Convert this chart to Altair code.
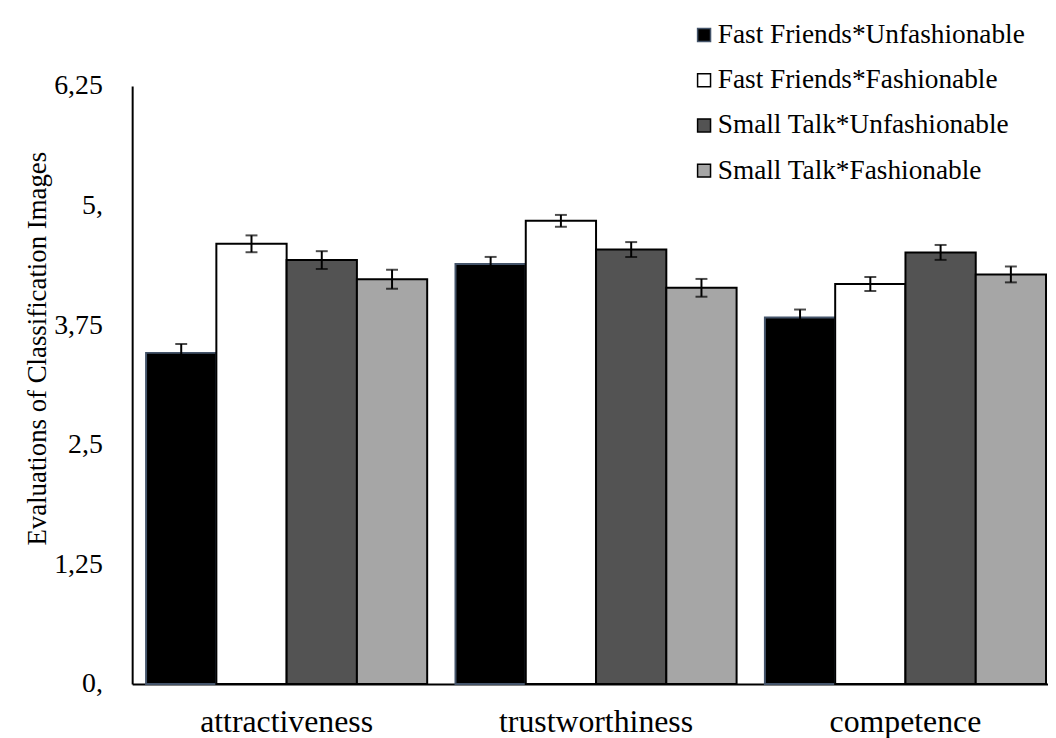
import altair as alt
import pandas as pd

categories = ["attractiveness", "trustworthiness", "competence"]
groups = [
    "Fast Friends*Unfashionable",
    "Fast Friends*Fashionable",
    "Small Talk*Unfashionable",
    "Small Talk*Fashionable",
]
ff_unf = [3.46, 4.39, 3.83]
ff_fas = [4.60, 4.84, 4.18]
st_unf = [4.43, 4.54, 4.51]
st_fas = [4.23, 4.14, 4.28]
ff_unf_err = [0.093, 0.073, 0.083]
ff_fas_err = [0.088, 0.062, 0.073]
st_unf_err = [0.093, 0.078, 0.078]
st_fas_err = [0.10, 0.093, 0.083]

tick_vals = [0, 1.25, 2.5, 3.75, 5, 6.25]
tick_labels = ["0,", "1,25", "2,5", "3,75", "5,", "6,25"]

colors = ["#000000", "#ffffff", "#535353", "#a6a6a6"]
strokes = ["#44546a", "#000000", "#000000", "#000000"]

series = [ff_unf, ff_fas, st_unf, st_fas]
errs = [ff_unf_err, ff_fas_err, st_unf_err, st_fas_err]
rows = []
for g, vals, es in zip(groups, series, errs):
    for c, v, e in zip(categories, vals, es):
        rows.append({"cat": c, "grp": g, "val": v, "err": e})
df = pd.DataFrame(rows)

label_expr = " : ".join(
    [f"datum.value == {v} ? '{l}'" for v, l in zip(tick_vals, tick_labels)]
) + " : ''"

FONT = "Liberation Serif"

x_enc = alt.X(
    "cat:N",
    sort=categories,
    title=None,
    scale=alt.Scale(paddingInner=0.0915, paddingOuter=0.0257, align=0.875),
    axis=alt.Axis(
        labelFontSize=32,
        labelFont=FONT,
        labelColor="black",
        labelPadding=23,
        labelLimit=400,
        ticks=False,
        domainColor="black",
        domainWidth=2,
        labelAngle=0,
    ),
)
xoff = alt.XOffset("grp:N", sort=groups, scale=alt.Scale(domain=groups))
y_scale = alt.Scale(domain=[0, 6.25], nice=False)

bars = alt.Chart(df).mark_bar(strokeWidth=2).encode(
    x=x_enc,
    xOffset=xoff,
    y=alt.Y(
        "val:Q",
        scale=y_scale,
        title="Evaluations of Classification Images",
        axis=alt.Axis(
            values=tick_vals,
            labelExpr=label_expr,
            labelFontSize=28,
            labelFont=FONT,
            labelColor="black",
            labelPadding=30,
            ticks=False,
            grid=False,
            domainColor="black",
            domainWidth=2,
            titleFont=FONT,
            titleFontSize=27,
            titleFontWeight="normal",
            titleColor="black",
            titleX=-95,
            titleY=264,
            titleAlign="center",
            titleBaseline="middle",
            titleAngle=270,
        ),
    ),
    color=alt.Color(
        "grp:N",
        sort=groups,
        scale=alt.Scale(domain=groups, range=colors),
        title=None,
        legend=alt.Legend(
            orient="none",
            legendX=562,
            legendY=-65,
            labelFont=FONT,
            labelFontSize=27.5,
            labelColor="black",
            symbolType="square",
            symbolSize=170,
            symbolStrokeColor="black",
            symbolStrokeWidth=1.5,
            labelOffset=0,
            rowPadding=16.5,
            padding=0,
            labelLimit=500,
        ),
    ),
    stroke=alt.Stroke(
        "grp:N", sort=groups, scale=alt.Scale(domain=groups, range=strokes), legend=None
    ),
)

base_err = alt.Chart(df).transform_calculate(
    lo="datum.val - datum.err", hi="datum.val + datum.err"
)
rules = base_err.mark_rule(color="black", strokeWidth=2).encode(
    x=alt.X("cat:N", sort=categories),
    xOffset=xoff,
    y=alt.Y("lo:Q", scale=y_scale),
    y2="hi:Q",
)
caps_hi = base_err.mark_tick(color="black", thickness=2, size=12, orient="horizontal").encode(
    x=alt.X("cat:N", sort=categories),
    xOffset=xoff,
    y=alt.Y("hi:Q", scale=y_scale),
)
caps_lo = base_err.mark_tick(color="black", thickness=2, size=12, orient="horizontal").encode(
    x=alt.X("cat:N", sort=categories),
    xOffset=xoff,
    y=alt.Y("lo:Q", scale=y_scale),
)

chart = (
    alt.layer(bars, rules, caps_hi, caps_lo)
    .properties(
        width=922,
        height=602,
        autosize=alt.AutoSizeParams(type="none"),
        padding={"left": 125, "top": 76, "right": 0, "bottom": 56},
        background="white",
    )
    .configure_view(stroke=None)
    .configure_axis(grid=False)
)

chart.save("out.html", embed_options={"renderer": "svg", "actions": False})
